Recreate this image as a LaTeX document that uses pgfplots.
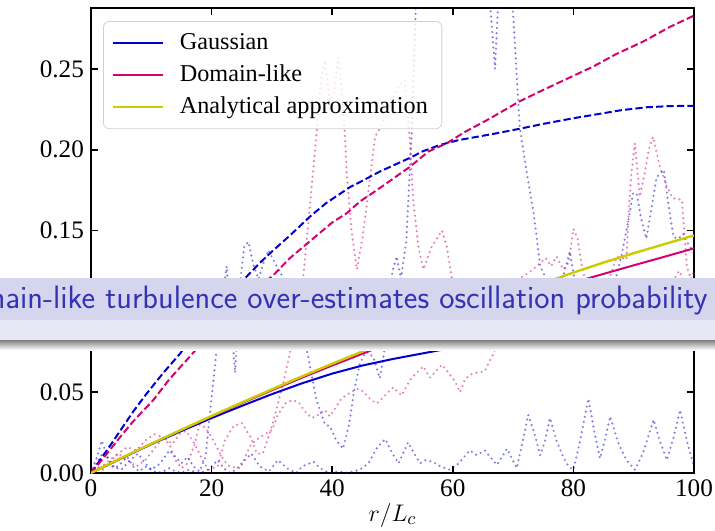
\documentclass[border=0pt]{standalone}
\usepackage{fontspec}
\setmainfont{Liberation Serif}
\usepackage{pgfplots}
\pgfplotsset{compat=1.18}
\definecolor{gblue}{RGB}{0,0,210}
\definecolor{dpink}{RGB}{214,0,110}
\definecolor{ayel}{RGB}{204,204,0}
\definecolor{bannerA}{RGB}{213,213,238}
\definecolor{bannerB}{RGB}{231,231,245}
\definecolor{bannertext}{RGB}{51,51,179}
\begin{document}
\begin{tikzpicture}
\useasboundingbox (-45.5pt,-28.5pt) rectangle (312pt,236.5pt);
\begin{axis}[
  at={(0,0)}, anchor=south west, scale only axis,
  width=301.5pt, height=232.5pt,
  xmin=0, xmax=100, ymin=0, ymax=0.2877,
  xtick={0,20,40,60,80,100},
  ytick={0,0.05,0.1,0.15,0.2,0.25},
  yticklabels={0.00,0.05,0.10,0.15,0.20,0.25},
  tick align=inside, xtick pos=both, ytick pos=both,
  major tick length=3.5pt,
  every tick/.style={black, line width=0.8pt},
  axis line style={line width=1pt},
  tick label style={font=\fontsize{12.6}{14}\selectfont},
  /pgf/number format/assume math mode=true,
  xlabel={$r/L_c$}, ylabel={$P_{\gamma\to a}$},
  every axis x label/.style={at={(axis description cs:0.5,0)}, anchor=center, yshift=-21pt, font=\fontsize{13}{15}\selectfont},
  every axis y label/.style={at={(axis description cs:0,0.5)}, anchor=center, rotate=90, xshift=-36.5pt, font=\fontsize{13}{15}\selectfont},
  legend style={at={(rel axis cs:0.02,0.972)}, anchor=north west, draw=black!18, fill=white, fill opacity=0.8, draw opacity=1, text opacity=1, rounded corners=3pt, font=\fontsize{12.1}{14}\selectfont, row sep=2.2pt, inner xsep=4pt, inner ysep=4pt},
  legend cell align=left,
  legend image code/.code={\draw[#1] (0pt,0pt) -- (25pt,0pt);},
  legend style={nodes={inner xsep=3pt}},
  dotb/.style={gblue, opacity=0.5, line width=1.2pt, line cap=round, dash pattern=on 0pt off 2.6pt, forget plot},
  dotp/.style={dpink, opacity=0.5, line width=1.2pt, line cap=round, dash pattern=on 0pt off 2.6pt, forget plot},
]
% ---------- individual realisations (dotted) ----------
\addplot[dotb] coordinates {
(0,0) (1,0.006) (2,0.013) (3,0.008) (4,0.003) (5,0.006) (6,0.010) (7,0.004) (8,0.001) (9,0.004) (10,0.002) (11,0.0) (12,0.001) (13,0.003) (14,0.001) (15,0.0) (16,0.002) (17,0.001) (18,0.0) (19,0.001) (20,0.004) (21,0.008) (22,0.003) (23,0.0) (24,0.002) (25,0.006) (26.6,0.012) (28,0.004) (29.5,0.001) (31,0.008) (32.5,0.003) (34,0.0) (35,0.004) (36.9,0.007) (38,0.003) (39.5,0.0) (41,0.001) (42.5,0.0) (44.6,0.002) (46,0.006) (47.5,0.016) (48.8,0.021) (50,0.012) (51,0.006) (52.6,0.019) (53.6,0.012) (54.6,0.006) (55.5,0.008) (56.6,0.007) (58,0.004) (59.5,0.002) (61,0.006) (62.8,0.014) (64,0.011) (65.3,0.014) (67.3,0.005) (69,0.015) (70.6,0.003) (71.5,0.018) (72.5,0.036) (73.5,0.025) (74.5,0.011) (75.3,0.02) (76.1,0.034) (77.2,0.02) (78.3,0.010) (79.2,0.004) (80,0.002) (81,0.018) (82.5,0.046) (83.5,0.025) (84.4,0.009) (85.2,0.02) (86.1,0.035) (87.5,0.018) (88.8,0.008) (90.2,0.002) (91.5,0.012) (93.3,0.033) (94.3,0.02) (95.5,0.008) (96.6,0.022) (97.7,0.039) (98.8,0.02) (100,0.004)
};
\addplot[dotb] coordinates {
(0,0) (1,0.01) (1.8,0.02) (2.5,0.012) (3.5,0.004) (5,0.002) (6.5,0.008) (7.8,0.012) (9,0.006) (10,0.002) (11.5,0.006) (13,0.014) (14,0.01) (15,0.006) (16,0.01) (17,0.004) (18,0.001) (19,0.01) (19.8,0.04) (20.6,0.068) (21.5,0.10) (22.5,0.128) (23.2,0.095) (23.9,0.062) (24.3,0.09) (24.8,0.12) (25.4,0.14) (26.1,0.143) (27,0.128) (27.8,0.12) (28.6,0.13) (29.4,0.138) (30.5,0.13) (32,0.12) (34,0.11) (35,0.09) (36,0.072) (37.4,0.045) (38.8,0.030) (39.6,0.029) (40.7,0.02) (41.8,0.015) (42.8,0.03) (43.6,0.05) (44.6,0.068) (45.6,0.075) (46.8,0.072) (47.9,0.0586) (48.6,0.074) (49.3,0.10) (50,0.125) (50.7,0.134) (51.4,0.120) (52.3,0.144) (52.9,0.19) (53.2,0.211) (53.6,0.26) (54,0.30) (55,0.36) (60,0.40) (65,0.35) (66.2,0.29) (67,0.25) (67.5,0.29) (68.5,0.33) (69.5,0.30) (70,0.284) (71.1,0.214) (72.3,0.185) (73.4,0.161) (74.5,0.128) (75.5,0.12) (76.5,0.10) (77.5,0.11) (78.9,0.130) (79.4,0.137) (80,0.124) (81,0.10) (82.5,0.09) (84,0.10) (85.5,0.11) (87,0.12) (88,0.135) (88.8,0.150) (89.9,0.173) (90.5,0.173) (91.2,0.158) (92.1,0.145) (93,0.165) (93.8,0.183) (95,0.1875) (95.8,0.165) (96.6,0.146) (97.4,0.145) (98.2,0.148) (99,0.142) (100,0.136)
};
\addplot[dotp] coordinates {
(0,0) (1.5,0.003) (3,0.008) (4.5,0.012) (6,0.008) (7.5,0.004) (9,0.008) (10.5,0.015) (12,0.022) (13.5,0.018) (14.8,0.0245) (15.8,0.026) (17.2,0.018) (18.5,0.008) (19.5,0.002) (21,0.004) (22.2,0.020) (23.6,0.029) (25,0.031) (26.5,0.022) (27.5,0.012) (28.5,0.012) (30,0.029) (31.5,0.05) (33,0.074) (34,0.10) (35.2,0.121) (36.3,0.165) (37.4,0.21) (38.2,0.245) (38.8,0.255) (39.6,0.23) (40.3,0.235) (41.0,0.257) (41.5,0.24) (42.1,0.21) (42.4,0.1855) (43.2,0.15) (44.1,0.126) (45,0.145) (45.7,0.165) (47.1,0.208) (48.2,0.215) (49.6,0.228) (50.8,0.238) (52,0.243) (52.9,0.205) (53.4,0.17) (54.3,0.14) (55.1,0.126) (56.5,0.14) (58.2,0.150) (59,0.14) (59.8,0.1215) (61,0.10) (63,0.09) (65,0.10) (67,0.11) (69,0.105) (71,0.12) (73,0.125) (74.5,0.13) (75.4,0.133) (76.3,0.128) (77.2,0.134) (78.3,0.126) (79.2,0.130) (80,0.151) (80.7,0.145) (81.3,0.13) (82.5,0.11) (84,0.10) (85.5,0.115) (87.2,0.134) (88.8,0.132) (89.1,0.157) (89.6,0.185) (90.2,0.204) (91,0.171) (91.8,0.185) (92.5,0.200) (93.2,0.208) (94.3,0.19) (95.5,0.177) (96.5,0.17) (98,0.169) (98.8,0.128) (99.5,0.12) (100,0.125)
};
\addplot[dotp] coordinates {
(0,0) (1,0.004) (2,0.002) (3,0.006) (4.5,0.012) (6,0.016) (7.5,0.014) (9,0.02) (10.5,0.024) (12,0.022) (13.1,0.017) (14,0.008) (15,0.003) (16,0.006) (17.2,0.018) (18,0.03) (19,0.028) (20,0.022) (21,0.015) (22,0.008) (23,0.004) (24.8,0.003) (25.8,0.012) (26.6,0.018) (28,0.022) (30,0.0266) (31,0.036) (32.2,0.043) (33.3,0.045) (34.4,0.044) (35.5,0.038) (36.6,0.034) (37.7,0.036) (38.8,0.039) (39.6,0.035) (40.5,0.04) (41.5,0.046) (42.7,0.049) (44,0.052) (44.6,0.052) (45.5,0.049) (46.5,0.045) (47.4,0.043) (48.5,0.047) (50.1,0.053) (51.5,0.048) (52.9,0.0575) (54,0.062) (55.1,0.066) (56.2,0.059) (57.2,0.063) (58.2,0.067) (59.3,0.062) (60.4,0.0565) (61.2,0.050) (62,0.058) (63,0.061) (64,0.062) (65.3,0.063) (66.2,0.070) (66.8,0.074) (68,0.09) (70,0.10) (72,0.11) (74,0.118) (76,0.112) (78,0.105) (80,0.11) (82,0.1) (84,0.095) (86,0.11) (88,0.118) (90,0.112) (92,0.105) (94,0.11) (96,0.115) (97.5,0.125) (98.5,0.118) (100,0.11)
};
% ---------- dashed curves ----------
\addplot[gblue, line width=1pt, dash pattern=on 3.6pt off 1.6pt, forget plot] coordinates {
(0,0) (1.5,0.008) (3,0.016) (5,0.027) (7,0.038) (9.2,0.049) (12,0.062) (14.8,0.074) (17,0.085) (20,0.098) (23,0.110) (25.8,0.1215) (28,0.130) (30,0.137) (33,0.147) (36.3,0.1586) (39,0.167) (43,0.177) (44.6,0.180) (47.9,0.1865) (52.9,0.195) (55,0.199) (57.9,0.203) (61,0.206) (64,0.208) (67,0.210) (71.1,0.213) (75,0.216) (80,0.2195) (84,0.222) (88,0.2245) (92.2,0.2263) (96,0.227) (100,0.2272)
};
\addplot[dpink, line width=1pt, dash pattern=on 3.6pt off 1.6pt, forget plot] coordinates {
(0,0) (2,0.009) (5,0.023) (7,0.032) (10.3,0.045) (13,0.058) (15.9,0.070) (19,0.083) (22,0.095) (25,0.106) (27.5,0.115) (30,0.1215) (33,0.133) (36.5,0.144) (40,0.155) (42.4,0.1607) (44.6,0.168) (47.4,0.175) (52.9,0.1895) (56,0.199) (59,0.204) (62,0.211) (66,0.219) (71.1,0.230) (75,0.237) (79,0.244) (83.3,0.2515) (87,0.259) (91.6,0.267) (96,0.276) (100,0.283)
};
% ---------- solid curves ----------
\addplot[gblue, line width=1pt, forget plot] coordinates {
(0,0) (5,0.009) (10,0.0178) (15,0.026) (20,0.034) (25,0.0415) (30,0.0488) (35,0.0555) (40,0.0615) (45,0.0665) (50,0.0705) (55,0.074) (60,0.0775) (65,0.081) (70,0.084) (75,0.0868) (80,0.0893) (85,0.0916) (90,0.0937) (95,0.0956) (100,0.0973)
};
\addplot[dpink, line width=1pt, forget plot] coordinates {
(0,0) (5,0.0091) (10,0.018) (15,0.0266) (20,0.035) (25,0.0432) (30,0.0512) (35,0.059) (40,0.0665) (45,0.0738) (50,0.081) (55,0.0878) (60,0.0943) (65,0.1005) (70,0.1065) (75,0.1123) (80,0.1178) (85,0.1232) (90,0.1285) (95,0.1337) (100,0.139)
};
\addplot[ayel, line width=1.2pt, forget plot] coordinates {
(0,0) (2,0.0037) (5,0.0092) (10,0.0181) (15,0.0268) (20,0.0353) (25,0.0436) (30,0.0518) (35,0.0598) (40,0.0676) (45,0.0752) (50,0.0826) (55,0.0899) (60,0.097) (65,0.104) (70,0.1108) (75,0.1175) (80,0.124) (85,0.1302) (90,0.136) (95,0.1415) (100,0.147)
};
\addlegendimage{gblue, line width=1pt}
\addlegendentry{\hspace{5pt}Gaussian}
\addlegendimage{dpink, line width=1pt}
\addlegendentry{\hspace{5pt}Domain-like}
\addlegendimage{ayel, line width=1.2pt}
\addlegendentry{\hspace{5pt}Analytical approximation}
\end{axis}
\begin{scope}[overlay]
\fill[bannerA] (-60pt,76.5pt) rectangle (330pt,97.65pt);
\fill[bannerB] (-60pt,66.5pt) rectangle (330pt,76.5pt);
\shade[top color=black!50, bottom color=white] (-60pt,61.5pt) rectangle (330pt,66.5pt);
\node[anchor=base east, inner sep=0pt, text=bannertext, font=\fontsize{16.2}{18}\selectfont\sffamily] at (308.5pt,82.5pt) {Domain-like turbulence over-estimates oscillation probability};
\end{scope}
\end{tikzpicture}
\end{document}
